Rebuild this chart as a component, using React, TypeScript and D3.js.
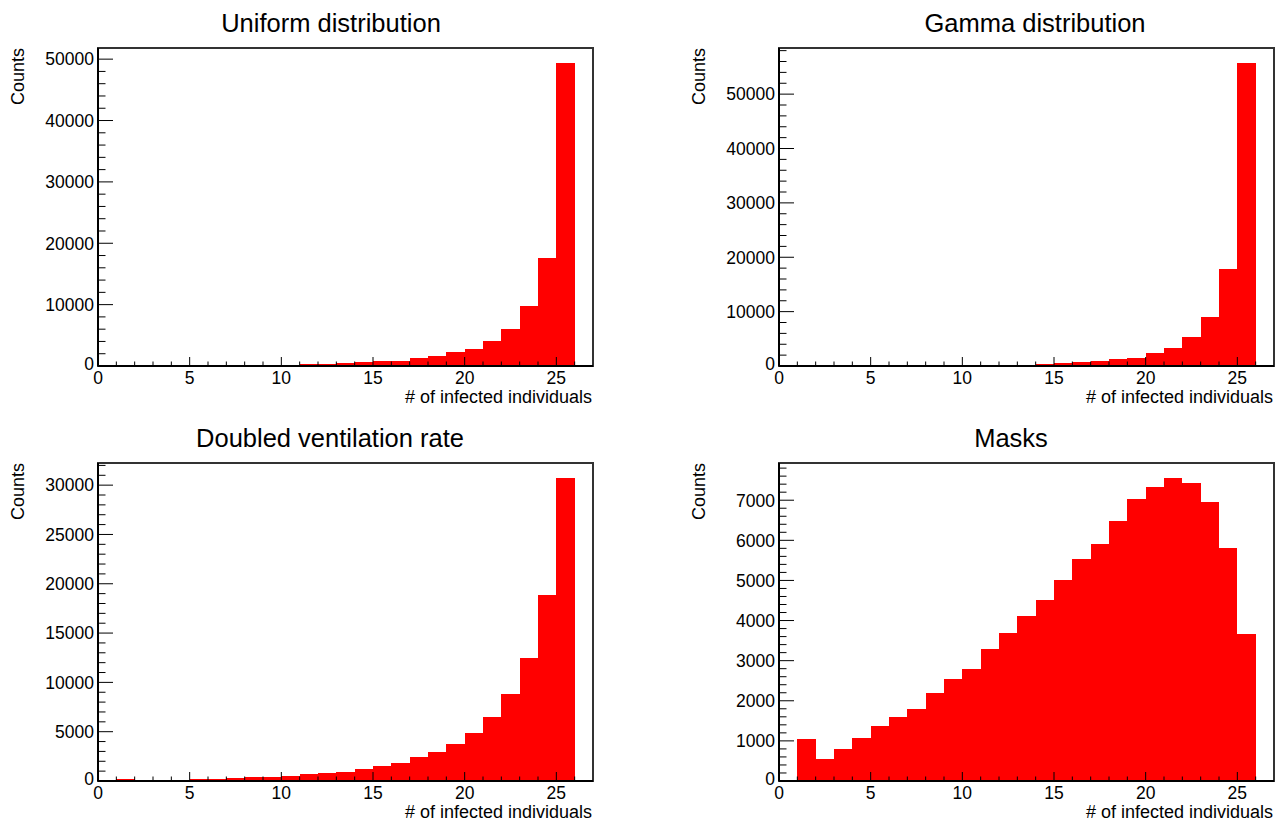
import React from 'react';
import * as d3 from 'd3';

// bin lower edges (bin width 1), x axis 0..27
const binLow = [1, 2, 3, 4, 5, 6, 7, 8, 9, 10, 11, 12, 13, 14, 15, 16, 17, 18, 19, 20, 21, 22, 23, 24, 25];

const uniformCounts = [165, 10, 10, 10, 10, 10, 110, 110, 120, 130, 275, 275, 480, 600, 770, 890, 1360, 1640, 2260, 2810, 4000, 6110, 9700, 17520, 49350];
const gammaCounts = [0, 0, 0, 0, 0, 0, 0, 0, 0, 110, 110, 120, 130, 320, 500, 680, 920, 1290, 1540, 2390, 3370, 5400, 9080, 17790, 55700];
const ventilationCounts = [170, 70, 70, 70, 170, 170, 270, 370, 370, 470, 675, 845, 945, 1180, 1520, 1860, 2430, 2970, 3780, 4900, 6450, 8850, 12470, 18820, 30710];
const masksCounts = [1042, 542, 792, 1067, 1367, 1600, 1800, 2183, 2550, 2783, 3300, 3692, 4117, 4508, 5010, 5530, 5900, 6490, 7030, 7340, 7550, 7420, 6960, 5800, 3670];

const titles = ['Uniform distribution', 'Gamma distribution', 'Doubled ventilation rate', 'Masks'];
const xLabel = '# of infected individuals';
const yLabel = 'Counts';

const FONT = '"Liberation Sans", Arial, Helvetica, sans-serif';
const W = 1282;
const H = 823;
const FW = 495;
const FH = 318;

const layout = [
  { left: 98, top: 48, titleX: 331 },
  { left: 779, top: 48, titleX: 1035 },
  { left: 98, top: 463, titleX: 330 },
  { left: 779, top: 463, titleX: 1011 },
];

const series = [uniformCounts, gammaCounts, ventilationCounts, masksCounts];

function Histo({ title, counts, left, top, titleX }: { title: string; counts: number[]; left: number; top: number; titleX: number }) {
  const x = d3.scaleLinear().domain([0, 27]).range([left, left + FW]);
  const yMax = (d3.max(counts) || 1) * 1.05;
  const y = d3.scaleLinear().domain([0, yMax]).range([top + FH, top]);
  const bottom = top + FH;

  const yMajor = y.ticks(6);
  const step = yMajor[1] - yMajor[0];
  const yMinor = d3.range(0, yMax, step / 5).filter(v => !yMajor.some(m => Math.abs(m - v) < step / 100));
  const xMajor = [0, 5, 10, 15, 20, 25];
  const xMinor = d3.range(0, 27, 1).filter(v => v % 5 !== 0);

  const majLenY = 15;
  const minLenY = 7.5;
  const majLenX = 9;
  const minLenX = 4.5;

  return (
    <g>
      <text x={titleX} y={top - 16.5} textAnchor="middle" fontSize={25.5} fontFamily={FONT} fill="#000">{title}</text>

      {counts.map((c, i) => c > 0 ? (
        <rect key={i} x={x(binLow[i])} width={x(binLow[i] + 1) - x(binLow[i])} y={y(c)} height={bottom - y(c)}
          fill="#ff0000" shapeRendering="crispEdges" />
      ) : null)}

      <rect x={left} y={top} width={FW} height={FH} fill="none" stroke="#333" strokeWidth={1.2} shapeRendering="crispEdges" />

      {xMajor.map(v => (
        <g key={'xM' + v}>
          <line x1={x(v)} x2={x(v)} y1={bottom} y2={bottom - majLenX} stroke="#000" />
          <text x={x(v)} y={bottom + 18} textAnchor="middle" fontSize={17.5} fontFamily={FONT}>{v}</text>
        </g>
      ))}
      {xMinor.map(v => (
        <line key={'xm' + v} x1={x(v)} x2={x(v)} y1={bottom} y2={bottom - minLenX} stroke="#000" />
      ))}

      {yMajor.map(v => (
        <g key={'yM' + v}>
          <line x1={left} x2={left + majLenY} y1={y(v)} y2={y(v)} stroke="#000" />
          <text x={left - 4} y={y(v) - (v === 0 ? 2 : 0)} dy="0.36em" textAnchor="end" fontSize={17.5} fontFamily={FONT}>{v}</text>
        </g>
      ))}
      {yMinor.map(v => (
        <line key={'ym' + v} x1={left} x2={left + minLenY} y1={y(v)} y2={y(v)} stroke="#000" />
      ))}

      <line x1={left} x2={left + FW} y1={bottom} y2={bottom} stroke="#000" strokeWidth={1.2} shapeRendering="crispEdges" />
      <line x1={left} x2={left} y1={top} y2={bottom} stroke="#000" strokeWidth={1.2} shapeRendering="crispEdges" />

      <text x={left + FW - 1} y={bottom + 37} textAnchor="end" fontSize={18} fontFamily={FONT}>{xLabel}</text>
      <text transform={`translate(${left - 74},${top}) rotate(-90)`} textAnchor="end" fontSize={18} fontFamily={FONT}>{yLabel}</text>
    </g>
  );
}

export default function App() {
  return (
    <svg width={W} height={H} style={{ position: 'absolute', left: 0, top: 0, background: '#fff' }}>
      <rect width={W} height={H} fill="#fff" />
      {series.map((counts, i) => (
        <Histo key={i} title={titles[i]} counts={counts} {...layout[i]} />
      ))}
    </svg>
  );
}
